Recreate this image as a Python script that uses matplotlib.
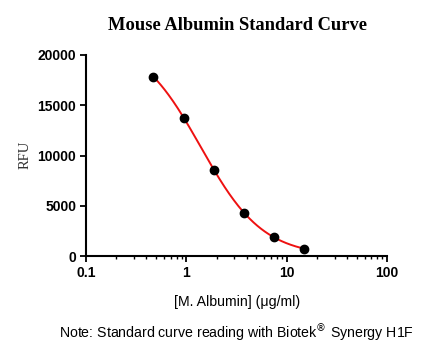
import numpy as np
import matplotlib
matplotlib.use("Agg")
import matplotlib.pyplot as plt
from matplotlib.ticker import LogLocator, FixedLocator, NullFormatter

# standard concentrations (ug/ml) and readings (RFU)
conc = [0.47, 0.94, 1.875, 3.75, 7.5, 15]
rfu = [17850, 13770, 8590, 4310, 1880, 720]
x_ticks = [0.1, 1, 10, 100]
x_tick_labels = ["0.1", "1", "10", "100"]
y_ticks = [0, 5000, 10000, 15000, 20000]


def four_pl(x, a, d, c, b):
    return d + (a - d) / (1 + (x / c) ** b)


# crude 4PL fit: grid over slope/midpoint, linear solve for top/bottom
xs = np.array(conc)
ys = np.array(rfu, dtype=float)
best = None
for b in np.linspace(0.5, 3.0, 126):
    for c in np.exp(np.linspace(np.log(0.3), np.log(10), 200)):
        g = 1 / (1 + (xs / c) ** b)
        M = np.column_stack([g, 1 - g])
        coef, *_ = np.linalg.lstsq(M, ys, rcond=None)
        err = np.sum((M @ coef - ys) ** 2)
        if best is None or err < best[0]:
            best = (err, coef[0], coef[1], c, b)
_, A, D, C, B = best

xfit = np.logspace(np.log10(conc[0]), np.log10(conc[-1]), 200)
yfit = four_pl(xfit, A, D, C, B)

fig = plt.figure(figsize=(4.33, 3.56), dpi=100)
ax = fig.add_axes([86 / 433, 1 - 256 / 356, 301 / 433, 201 / 356])

ax.plot(xfit, yfit, color="#ee1111", linewidth=1.4, zorder=2)
ax.plot(conc, rfu, "o", color="black", markersize=6, zorder=3)

ax.set_xscale("log")
ax.set_xlim(0.1, 100)
ax.set_ylim(0, 20000)

for side in ["top", "right"]:
    ax.spines[side].set_visible(False)
for side in ["left", "bottom"]:
    ax.spines[side].set_linewidth(1.5)

ax.xaxis.set_major_locator(FixedLocator(x_ticks))
ax.set_xticklabels(x_tick_labels)
ax.xaxis.set_minor_locator(LogLocator(base=10, subs=np.arange(2, 10)))
ax.xaxis.set_minor_formatter(NullFormatter())
ax.set_yticks(y_ticks)
ax.set_yticklabels([str(v) for v in y_ticks])

ax.tick_params(axis="both", which="major", direction="out", length=4.5, width=1.3,
               labelsize=10, pad=2.5)
ax.tick_params(axis="x", which="minor", direction="out", length=2.5, width=1.0)
for lab in ax.get_xticklabels() + ax.get_yticklabels():
    lab.set_fontfamily("Liberation Sans")
    lab.set_fontweight("bold")

ax.set_xlabel("[M. Albumin] (\u03bcg/ml)", fontsize=10.2, family="Liberation Sans")
ax.xaxis.label.set_va("center")
ax.xaxis.set_label_coords((237 - 86) / 301, (256 - 302) / 201)
ax.set_ylabel("RFU", fontsize=10.5, family="Liberation Serif", color="#333333")
ax.yaxis.label.set_va("center")
ax.yaxis.set_label_coords((25 - 86) / 301, (256 - 155) / 201)

fig.text(237 / 433, 1 - 25 / 356, "Mouse Albumin Standard Curve", ha="center",
         va="center", fontsize=13.3, fontweight="bold", family="Liberation Serif")
fig.text(236 / 433, 1 - 333 / 356,
         "Note: Standard curve reading with Biotek$^{\u00ae}$ Synergy H1F",
         ha="center", va="center", fontsize=10.2, family="Liberation Sans")

fig.savefig("out.png", dpi=100)
